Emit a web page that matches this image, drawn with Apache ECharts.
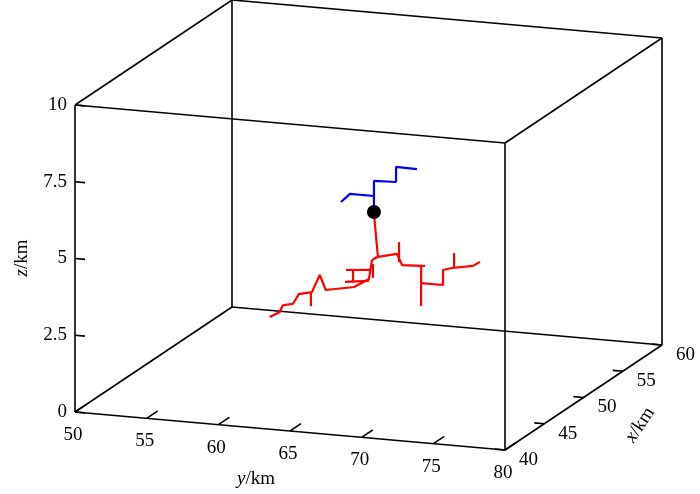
<!DOCTYPE html>
<html><head><meta charset="utf-8">
<script src="https://cdn.jsdelivr.net/npm/echarts@6/dist/echarts.min.js"></script>
<style>html,body{margin:0;background:#fff}#c{width:700px;height:494px}</style>
</head><body><div id="c"></div>
<script>
// 3D points are [x(km), y(km), z(km)]
var xTicks = [40, 45, 50, 55, 60];
var yTicks = [50, 55, 60, 65, 70, 75, 80];
var zTicks = [0, 2.5, 5, 7.5, 10];
var zLabels = ['0', '2.5', '5', '7.5', '10'];
var origin = [50, 65.38, 5.44];
var blueMain = [[50,65.38,5.44],[50,65.38,6.45],[50,66.92,6.48],[50,66.92,6.97],[50,68.38,6.96]];
var blueLeft = [[50,65.38,5.96],[50,63.71,5.96],[50,63.08,5.67]];
var redTrunk = [[50,65.38,5.44],[50,65.45,5.02],[50,65.66,3.99],[50,65.24,3.87]];
var redRight = [[50,65.66,3.99],[50,66.99,4.14],[50,67.34,3.79],[50,68.67,3.82],[50,68.95,3.83]];
var redRightTick = [[50,67.13,4.53],[50,67.13,3.88]];
var redRightDown = [[50,68.67,3.82],[50,68.67,3.26],[50,68.67,2.51]];
var redRightFar = [[50,68.67,3.26],[50,70.20,3.26],[50,70.20,3.75],[50,70.83,3.84],[50,72.29,3.97],[50,72.78,4.12]];
var redRightFarTick = [[50,70.97,4.33],[50,70.97,3.85]];
var redLeft = [[50,65.24,3.87],[50,65.03,3.24],[50,64.00,2.94],[50,62.02,2.76],[50,61.60,3.23],[50,61.05,2.65],[50,60.14,2.55],[50,59.72,2.21],[50,59.02,2.14],[50,58.81,1.91],[50,58.11,1.72]];
var redLeftA = [[50,65.31,3.74],[50,65.31,3.29]];
var redLeftB = [[50,63.43,3.47],[50,65.10,3.54]];
var redLeftC = [[50,63.92,3.49],[50,63.92,3.08]];
var redLeftD = [[50,63.36,3.08],[50,65.03,3.18]];
var redLeftTick = [[50,60.98,2.65],[50,60.98,2.19]];

function proj(p) {
  var x = p[0], y = p[1], z = p[2];
  return [75 + (y - 50) / 30 * 430 + (x - 40) / 20 * 157,
          412 + (y - 50) / 30 * 38 - (x - 40) / 20 * 105 - z / 10 * 307];
}
var corners = [[40,50,0],[40,80,0],[60,80,0],[60,50,0]];
var edges = [];
for (var i = 0; i < 4; i++) {
  var a = corners[i], b = corners[(i + 1) % 4];
  edges.push([a, b]);
  edges.push([[a[0],a[1],10],[b[0],b[1],10]]);
  edges.push([a, [a[0],a[1],10]]);
}
var ticks = [];
zTicks.forEach(function (v) { ticks.push([[40,50,v],[40,50.7,v]]); });
yTicks.forEach(function (v) { ticks.push([[40,v,0],[41.4,v,0]]); });
xTicks.forEach(function (v) { ticks.push([[v,80,0],[v,79.3,0]]); });
var segs = edges.concat(ticks).map(function (s) { return proj(s[0]).concat(proj(s[1])); });

var labels = [];
zTicks.forEach(function (v, i) { var q = proj([40,50,v]); labels.push([q[0]-8, q[1], zLabels[i], 'right']); });
yTicks.forEach(function (v) { var q = proj([40,v,0]); labels.push([q[0]-2, q[1]+23, String(v), 'center']); });
xTicks.forEach(function (v) { var q = proj([v,80,0]); labels.push([q[0]+14, q[1]+10, String(v), 'left']); });

function lineSeries(pts, color) {
  return { type: 'line', data: pts.map(proj), showSymbol: false, silent: true,
    lineStyle: { color: color, width: 2.2 }, z: 3 };
}
var font = 'Liberation Serif';
var option = {
  animation: false,
  grid: { left: 0, right: 0, top: 0, bottom: 0 },
  xAxis: { type: 'value', min: 0, max: 700, show: false },
  yAxis: { type: 'value', min: 0, max: 494, inverse: true, show: false },
  series: [
    { type: 'custom', data: segs, silent: true, z: 1,
      renderItem: function (params, api) {
        var p1 = api.coord([api.value(0), api.value(1)]);
        var p2 = api.coord([api.value(2), api.value(3)]);
        return { type: 'line', shape: { x1: p1[0], y1: p1[1], x2: p2[0], y2: p2[1] },
          style: { stroke: '#000', lineWidth: 1.6 } };
      } },
    { type: 'custom', data: labels, silent: true, z: 1,
      renderItem: function (params, api) {
        var p = api.coord([api.value(0), api.value(1)]);
        return { type: 'text', x: p[0], y: p[1],
          style: { text: labels[params.dataIndex][2], align: labels[params.dataIndex][3],
            verticalAlign: 'middle', font: '19px "' + font + '"', fill: '#000' } };
      } },
    lineSeries(blueMain, '#0000ff'), lineSeries(blueLeft, '#0000ff'),
    lineSeries(redTrunk, '#ff0000'), lineSeries(redRight, '#ff0000'), lineSeries(redRightTick, '#ff0000'),
    lineSeries(redRightDown, '#ff0000'), lineSeries(redRightFar, '#ff0000'), lineSeries(redRightFarTick, '#ff0000'),
    lineSeries(redLeft, '#ff0000'), lineSeries(redLeftA, '#ff0000'), lineSeries(redLeftB, '#ff0000'),
    lineSeries(redLeftC, '#ff0000'), lineSeries(redLeftD, '#ff0000'), lineSeries(redLeftTick, '#ff0000'),
    { type: 'scatter', data: [proj(origin)], symbolSize: 14, itemStyle: { color: '#000', opacity: 1 }, z: 4, silent: true }
  ],
  graphic: [
    { type: 'text', x: 22, y: 258, rotation: Math.PI / 2, style: { text: '{i|z}/km', align: 'center', verticalAlign: 'middle',
      font: '19px "' + font + '"', rich: { i: { fontStyle: 'italic', fontFamily: font, fontSize: 19 } } } },
    { type: 'text', x: 256, y: 479, style: { text: '{i|y}/km', align: 'center', verticalAlign: 'middle',
      font: '19px "' + font + '"', rich: { i: { fontStyle: 'italic', fontFamily: font, fontSize: 19 } } } },
    { type: 'text', x: 640, y: 425, rotation: Math.PI / 3.2, style: { text: '{i|x}/km', align: 'center', verticalAlign: 'middle',
      font: '19px "' + font + '"', rich: { i: { fontStyle: 'italic', fontFamily: font, fontSize: 19 } } } }
  ]
};
echarts.init(document.getElementById('c')).setOption(option);
</script></body></html>
